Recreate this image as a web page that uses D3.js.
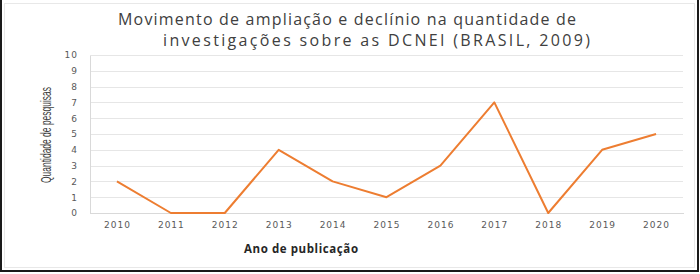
<!DOCTYPE html>
<html><head><meta charset="utf-8">
<script src="https://cdn.jsdelivr.net/npm/d3@7"></script>
<style>body{margin:0;background:#fff}svg{display:block}</style>
</head><body>
<script>
const years = ["2010","2011","2012","2013","2014","2015","2016","2017","2018","2019","2020"];
const counts = [2,0,0,4,2,1,3,7,0,4,5];
const yTicks = [0,1,2,3,4,5,6,7,8,9,10];
const titleLines = ["Movimento de ampliação e declínio na quantidade de","investigações  sobre as DCNEI (BRASIL, 2009)"];
const xTitle = "Ano de publicação";
const yTitle = "Quantidade de pesquisas";

(function () {
const W = 700, H = 274;
const svg = d3.select("body").append("svg").attr("width", W).attr("height", H);
svg.append("rect").attr("width", W).attr("height", H).attr("fill", "#fff");

const pL = 90, pR = 683, pT = 55, pB = 213;
const x = d3.scalePoint().domain(years).range([pL, pR]).padding(0.5);
const y = d3.scaleLinear().domain([0, 10]).range([pB, pT]);

// gridlines
svg.append("g").selectAll("line").data(yTicks.filter(d => d > 0)).join("line")
  .attr("x1", pL).attr("x2", pR).attr("y1", d => Math.round(y(d)) + 0.5).attr("y2", d => Math.round(y(d)) + 0.5)
  .attr("stroke", "#e6e6e6").attr("stroke-width", 1);

// y axis
const yAxis = svg.append("g").attr("transform", `translate(${pL},0)`)
  .call(d3.axisLeft(y).tickValues(yTicks).tickSize(0).tickPadding(12));
yAxis.select(".domain").attr("stroke", "#d9d9d9").attr("shape-rendering", "crispEdges");
yAxis.selectAll("text").attr("fill", "#595959").attr("font-family", "DejaVu Sans, sans-serif").attr("font-size", 9).attr("letter-spacing", "1px");

// x axis
const xAxis = svg.append("g").attr("transform", `translate(0,${pB})`)
  .call(d3.axisBottom(x).tickSize(0).tickPadding(9));
xAxis.select(".domain").attr("stroke", "#d9d9d9").attr("shape-rendering", "crispEdges");
xAxis.selectAll("text").attr("fill", "#595959").attr("font-family", "DejaVu Sans, sans-serif").attr("font-size", 9).attr("letter-spacing", "1px");

// line
svg.append("path").datum(counts.map((v, i) => [years[i], v]))
  .attr("fill", "none").attr("stroke", "#ed7d31").attr("stroke-width", 2).attr("stroke-linejoin", "round")
  .attr("d", d3.line().x(d => x(d[0])).y(d => y(d[1])));

// title
const tPos = [[118, 458], [163, 427]];
svg.append("g").selectAll("text").data(titleLines).join("text")
  .attr("x", (d, i) => tPos[i][0]).attr("y", (d, i) => 25 + i * 21)
  .attr("textLength", (d, i) => tPos[i][1]).attr("lengthAdjust", "spacing")
  .attr("font-family", "Open Sans, sans-serif").attr("font-size", 16).attr("fill", "#404040")
  .text(d => d);

// axis titles
svg.append("text").attr("x", 244).attr("y", 253).attr("textLength", 114).attr("lengthAdjust", "spacing")
  .attr("font-family", "Open Sans, sans-serif").attr("font-weight", "bold").attr("font-size", 11.5).attr("fill", "#262626")
  .text(xTitle);
svg.append("text").attr("transform", "translate(51,183) rotate(-90)")
  .attr("textLength", 96).attr("lengthAdjust", "spacingAndGlyphs")
  .attr("font-family", "Liberation Sans Narrow, Liberation Sans, sans-serif")
  .attr("font-size", 14).attr("fill", "#404040")
  .text(yTitle);

// frame
svg.append("rect").attr("x", 4.5).attr("y", 3.5).attr("width", 690).attr("height", 264)
  .attr("fill", "none").attr("stroke", "#e8e8e8");
svg.append("path").attr("d", `M1,0 V272 M0,271 H699 M698,0 V272`)
  .attr("fill", "none").attr("stroke", "#1a1a1a").attr("stroke-width", 2);
})();
</script>
</body></html>
